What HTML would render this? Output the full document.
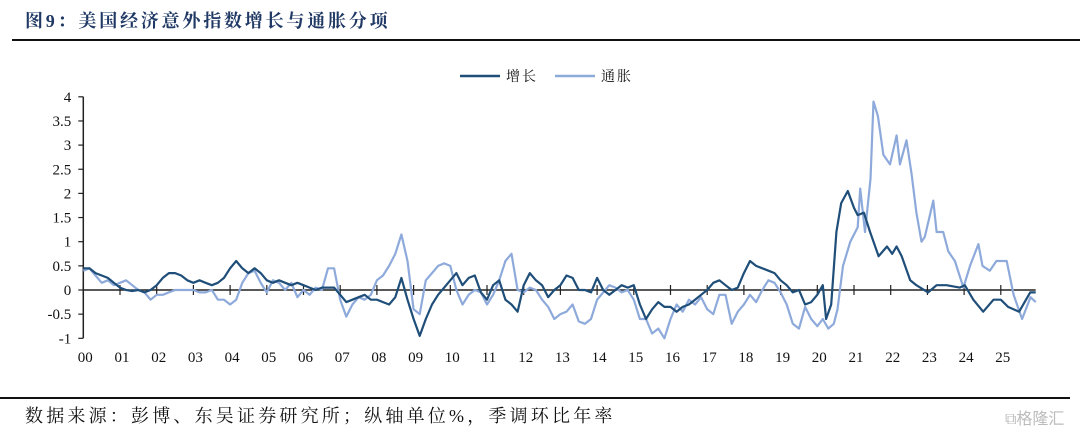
<!DOCTYPE html>
<html><head><meta charset="utf-8"><style>
body{margin:0;background:#fff;width:1080px;height:434px;overflow:hidden;font-family:"Liberation Serif","Noto Serif CJK SC",serif}
</style></head><body>
<div style="position:absolute;left:25px;top:7px;font-size:18px;font-weight:bold;color:#1f3864;font-family:'Liberation Serif','Noto Serif CJK SC',serif;letter-spacing:2.8px">图9：美国经济意外指数增长与通胀分项</div>
<div style="position:absolute;left:12px;top:39px;width:1068px;height:2px;background:#111"></div>
<svg id="chart" width="1080" height="434" style="position:absolute;left:0;top:0"></svg>
<div style="position:absolute;left:0;top:397px;width:1070px;height:2px;background:#111"></div>
<div style="position:absolute;left:25px;top:402px;font-size:18px;letter-spacing:3.2px;color:#111;font-family:'Liberation Serif','Noto Serif CJK SC',serif">数据来源：彭博、东吴证券研究所；纵轴单位%，季调环比年率</div>
<div style="position:absolute;left:1005px;top:405px;font-size:16px;color:#bbb;font-family:'Liberation Sans','Noto Sans CJK SC',sans-serif">⧉格隆汇</div>
<script>
const yTicks=[4,3.5,3,2.5,2,1.5,1,0.5,0,-0.5,-1];
const yTickLabels=["4","3.5","3","2.5","2","1.5","1","0.5","0","-0.5","-1"];
const xYears=[2000,2001,2002,2003,2004,2005,2006,2007,2008,2009,2010,2011,2012,2013,2014,2015,2016,2017,2018,2019,2020,2021,2022,2023,2024,2025];
const xLabels=["00","01","02","03","04","05","06","07","08","09","10","11","12","13","14","15","16","17","18","19","20","21","22","23","24","25"];
// growth bimonthly values from 2000.0 (step 1/6) through 2019.83
const growthBase=[
.45,.45,.35,.3,.25,.15, .05,0,-.02,0,-.05,0, .1,.25,.35,.35,.3,.2, .15,.2,.15,.1,.15,.25,
.45,.6,.45,.35,.45,.35, .2,.15,.2,.15,.1,.15, .1,.05,0,.05,.05,.05, -.1,-.25,-.2,-.15,-.1,-.2,
-.2,-.25,-.3,-.15,.25,-.2, -.6,-.95,-.6,-.3,-.1,.05, .2,.35,.1,.25,.3,-.05, -.2,.1,.2,-.2,-.3,-.45,
.1,.35,.2,.1,-.15,0, .1,.3,.25,0,0,-.05, .25,0,-.1,0,.1,.05, .1,-.3,-.6,-.4,-.25,-.35,
-.35,-.45,-.35,-.3,-.2,-.1, 0,.15,.2,.1,0,.05, .35,.6,.5,.45,.4,.35, .2,.1,-.05,0,-.3,-.25];
const growthTailT=[2020.0,2020.15,2020.24,2020.38,2020.52,2020.65,2020.83,2021.0,2021.1,2021.27,2021.44,2021.67,2021.9,2022.04,2022.16,2022.3,2022.53,2022.7,2023.02,2023.25,2023.52,2023.88,2024.02,2024.25,2024.52,2024.8,2025.0,2025.2,2025.5,2025.8,2025.95];
const growthTailV=[-0.1,0.1,-0.6,-0.3,1.2,1.8,2.05,1.7,1.55,1.6,1.2,0.7,0.9,0.75,0.9,0.7,0.2,0.1,-0.05,0.1,0.1,0.05,0.1,-0.2,-0.45,-0.2,-0.2,-0.35,-0.45,-0.05,-0.05];
const inflBase=[
.4,.45,.3,.15,.2,.1, .15,.2,.1,0,-.05,-.2, -.1,-.1,-.05,0,0,0, 0,-.05,-.05,0,-.2,-.2,
-.3,-.2,.15,.35,.4,.15, -.05,.2,.15,0,.15,-.15, 0,-.1,.05,0,.45,.45, -.2,-.55,-.3,-.15,-.2,-.1,
.2,.3,.5,.75,1.15,.6, -.4,-.5,.2,.35,.5,.55, .5,0,-.3,-.1,0,-.05, -.3,-.1,.2,.6,.75,0,
-.05,.05,0,-.2,-.35,-.6, -.5,-.45,-.3,-.65,-.7,-.6, -.2,-.05,.1,.05,-.05,0, -.2,-.6,-.6,-.9,-.8,-1.0,
-.6,-.3,-.45,-.2,-.3,-.15, -.4,-.5,-.1,-.1,-.7,-.45, -.3,-.1,-.25,0,.2,.15, -.05,-.3,-.7,-.8,-.35,-.6];
const inflTailT=[2020.0,2020.15,2020.3,2020.45,2020.55,2020.7,2020.9,2021.1,2021.17,2021.3,2021.45,2021.53,2021.65,2021.8,2021.98,2022.16,2022.25,2022.43,2022.57,2022.7,2022.84,2022.93,2023.16,2023.25,2023.43,2023.57,2023.75,2023.98,2024.16,2024.39,2024.5,2024.7,2024.88,2025.16,2025.35,2025.58,2025.81,2025.95];
const inflTailV=[-0.75,-0.6,-0.8,-0.7,-0.4,0.5,1.0,1.3,2.1,1.2,2.3,3.9,3.6,2.8,2.6,3.2,2.6,3.1,2.4,1.6,1.0,1.1,1.85,1.2,1.2,0.8,0.6,0.05,0.5,0.95,0.5,0.4,0.6,0.6,-0.1,-0.6,-0.15,-0.25];

const NS="http://www.w3.org/2000/svg";
const svg=document.getElementById('chart');
const X0=83.3,XS=36.7,Y0=290,YS=48.3;
function xOf(t){return X0+XS*(t-2000);}
function yOf(v){return Y0-YS*v;}
function mk(tag,attrs){const e=document.createElementNS(NS,tag);for(const k in attrs)e.setAttribute(k,attrs[k]);svg.appendChild(e);return e;}

const ax=mk('line',{x1:X0,y1:yOf(4),x2:X0,y2:yOf(-1),stroke:'#222','stroke-width':1.5});


yTicks.forEach((v,i)=>{
  const tk=mk('line',{x1:X0-5,y1:yOf(v),x2:X0,y2:yOf(v),stroke:'#222','stroke-width':1.2});
  
  
  const tx=mk('text',{x:X0-12,y:yOf(v)+5,'text-anchor':'end','font-size':15,fill:'#111','font-family':'Liberation Serif, serif'});
  tx.textContent=yTickLabels[i];
  
  
});
const zx=mk('line',{x1:X0,y1:Y0,x2:xOf(2025.95),y2:Y0,stroke:'#222','stroke-width':1.5});


xYears.forEach((yr,i)=>{
  const tk=mk('line',{x1:xOf(yr),y1:Y0-5,x2:xOf(yr),y2:Y0+5,stroke:'#222','stroke-width':1.2});
  
  
  const tx=mk('text',{x:xOf(yr)+2,y:362,'text-anchor':'middle','font-size':15,fill:'#111','font-family':'Liberation Serif, serif'});
  tx.textContent=xLabels[i];
  
  
});
function series(base,tT,tV){const pts=[];base.forEach((v,i)=>pts.push([2000+i/6,v]));tT.forEach((t,i)=>pts.push([t,tV[i]]));return pts.map(p=>xOf(p[0]).toFixed(1)+','+yOf(p[1]).toFixed(1)).join(' ');}
const li=mk('polyline',{points:series(inflBase,inflTailT,inflTailV),fill:'none',stroke:'#8eaadb','stroke-width':2.2,'stroke-linejoin':'round'});


const lg=mk('polyline',{points:series(growthBase,growthTailT,growthTailV),fill:'none',stroke:'#1f4e79','stroke-width':2.2,'stroke-linejoin':'round'});


// legend
const l1=mk('line',{x1:460,y1:76,x2:500,y2:76,stroke:'#1f4e79','stroke-width':2.5});


const t1=mk('text',{x:506,y:81,'font-size':14,'letter-spacing':2,fill:'#111','font-family':'Liberation Serif, Noto Serif CJK SC, serif'});
t1.textContent='增长';


const l2=mk('line',{x1:555,y1:76,x2:595,y2:76,stroke:'#8eaadb','stroke-width':2.5});


const t2=mk('text',{x:601,y:81,'font-size':14,'letter-spacing':2,fill:'#111','font-family':'Liberation Serif, Noto Serif CJK SC, serif'});
t2.textContent='通胀';


</script>
</body></html>
